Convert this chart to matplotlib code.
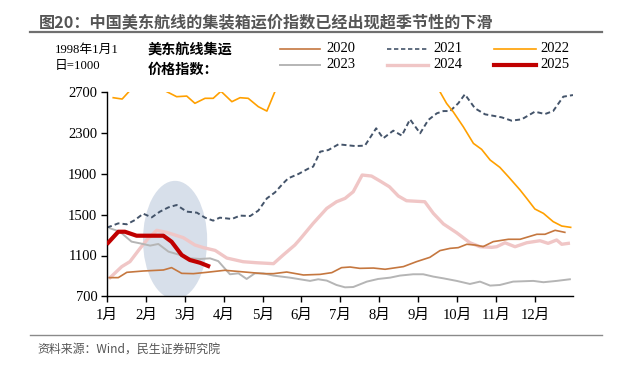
import matplotlib
matplotlib.use("Agg")
import matplotlib.pyplot as plt
from matplotlib.patches import Ellipse
from matplotlib.lines import Line2D

plt.rcParams['font.family'] = ['Liberation Serif', 'Noto Sans CJK SC', 'DejaVu Sans']

# ---------------- data (x in months since Jan 1, y = index) ----------------
months = ['1月', '2月', '3月', '4月', '5月', '6月', '7月', '8月', '9月', '10月', '11月', '12月']
yticks = [700, 1100, 1500, 1900, 2300, 2700]

x2020 = [0.06, 0.29, 0.51, 0.93, 1.45, 1.66, 1.92, 2.22, 2.56, 3.03, 3.42, 4.02, 4.28, 4.62, 5.05,
         5.48, 5.78, 6.03, 6.25, 6.50, 6.85, 7.15, 7.62, 7.96, 8.30, 8.56, 8.82, 9.03, 9.25, 9.46,
         9.67, 9.93, 10.32, 10.62, 11.05, 11.26, 11.52, 11.77]
y2020 = [883, 883, 935, 948, 958, 981, 925, 922, 935, 955, 942, 922, 922, 938, 909,
         915, 932, 981, 987, 974, 977, 965, 991, 1040, 1082, 1148, 1170, 1177, 1210, 1203,
         1187, 1236, 1259, 1259, 1308, 1308, 1347, 1327]

x2021 = [0.00, 0.29, 0.51, 0.72, 0.93, 1.15, 1.36, 1.58, 1.79, 2.05, 2.31, 2.52, 2.73, 2.90, 3.21,
         3.42, 3.68, 3.89, 4.11, 4.32, 4.53, 4.66, 4.92, 5.22, 5.30, 5.48, 5.69, 5.95, 6.38, 6.63,
         6.92, 7.10, 7.36, 7.58, 7.79, 8.05, 8.26, 8.48, 8.65, 8.82, 9.03, 9.20, 9.46, 9.72, 9.97,
         10.15, 10.40, 10.66, 11.00, 11.26, 11.47, 11.73, 11.98]
y2021 = [1373, 1415, 1406, 1448, 1510, 1474, 1530, 1572, 1595, 1530, 1520, 1471, 1442, 1471, 1458,
         1491, 1487, 1540, 1660, 1719, 1808, 1857, 1899, 1961, 1971, 2118, 2134, 2190, 2173, 2177,
         2347, 2249, 2324, 2275, 2435, 2298, 2429, 2494, 2516, 2516, 2592, 2680, 2543, 2484, 2467,
         2454, 2422, 2435, 2510, 2487, 2516, 2657, 2673]

x2022 = [0.16, 0.39, 0.62, 0.85, 1.08, 1.31, 1.79, 2.05, 2.26, 2.52, 2.73, 2.93, 3.21, 3.42, 3.63,
         3.89, 4.11, 4.58, 5.22, 6.02, 6.76, 7.53, 8.33, 8.56, 8.73, 8.90, 9.16, 9.42, 9.63, 9.85,
         10.10, 10.32, 10.62, 10.79, 11.00, 11.22, 11.47, 11.69, 11.92]
y2022 = [2647, 2634, 2730, 2810, 2800, 2750, 2657, 2663, 2592, 2641, 2641, 2710, 2608, 2647, 2641,
         2559, 2516, 2950, 3150, 3250, 3300, 3200, 2880, 2705, 2591, 2509, 2362, 2199, 2141, 2036,
         1964, 1872, 1742, 1660, 1556, 1513, 1432, 1389, 1376]

x2023 = [0.08, 0.33, 0.63, 0.85, 1.11, 1.32, 1.58, 1.88, 2.13, 2.39, 2.65, 2.86, 3.16, 3.38, 3.59,
         3.80, 4.02, 4.28, 4.70, 4.96, 5.22, 5.43, 5.65, 5.90, 6.12, 6.33, 6.68, 6.97, 7.28, 7.53,
         7.87, 8.13, 8.39, 8.65, 8.99, 9.33, 9.59, 9.85, 10.10, 10.44, 10.96, 11.22, 11.56, 11.90]
y2023 = [1366, 1334, 1236, 1219, 1197, 1213, 1138, 1105, 1072, 1066, 1072, 1045, 916, 925, 870,
         925, 925, 903, 883, 867, 851, 867, 854, 811, 788, 791, 844, 870, 883, 903,
         916, 916, 893, 876, 851, 821, 844, 805, 811, 844, 851, 838, 851, 867]

x2024 = [0.08, 0.38, 0.59, 0.85, 1.06, 1.28, 1.53, 1.96, 2.26, 2.48, 2.78, 3.08, 3.50, 3.85, 4.28,
         4.53, 4.83, 4.96, 5.30, 5.65, 5.90, 6.12, 6.33, 6.56, 6.80, 7.02, 7.26, 7.49, 7.70, 8.17,
         8.39, 8.65, 8.99, 9.33, 9.59, 9.89, 10.02, 10.23, 10.49, 10.79, 11.13, 11.34, 11.56, 11.69, 11.86]
y2024 = [883, 991, 1040, 1170, 1268, 1347, 1327, 1275, 1203, 1177, 1150, 1075, 1039, 1029, 1020,
         1105, 1203, 1259, 1415, 1562, 1627, 1660, 1725, 1889, 1879, 1830, 1774, 1683, 1637, 1627,
         1513, 1409, 1323, 1225, 1186, 1180, 1186, 1225, 1186, 1225, 1245, 1219, 1252, 1210, 1219]

x2025 = [0.03, 0.29, 0.46, 0.76, 1.11, 1.45, 1.66, 1.92, 2.13, 2.39, 2.60]
y2025 = [1225, 1333, 1333, 1294, 1294, 1294, 1235, 1105, 1056, 1029, 997]

# ---------------- figure ----------------
W, H = 619, 366
fig = plt.figure(figsize=(W / 100, H / 100), dpi=100)
fig.patch.set_facecolor('white')

def fx(px):
    return px / W

def fy(py):
    return 1 - py / H

ax = fig.add_axes([fx(107), fy(296.3), fx(573) - fx(107), fy(92.3) - fy(296.3)])

ax.add_patch(Ellipse((1.75, 1252), 1.65, 1160, facecolor='#D7DFEA', edgecolor='none', zorder=0.5))

ax.plot(x2024, y2024, color='#F0C6C6', lw=2.4, zorder=2, solid_joinstyle='round')
ax.plot(x2023, y2023, color='#B5B5B5', lw=1.4, zorder=2.1)
ax.plot(x2020, y2020, color='#C5773F', lw=1.2, zorder=2.2)
ax.plot(x2021, y2021, color='#44546A', lw=1.4, ls=(0, (2.6, 1.6)), zorder=2.3)
ax.plot(x2022, y2022, color='#FFA000', lw=1.2, zorder=2.4)
ax.plot(x2025, y2025, color='#C00000', lw=3.0, zorder=3, solid_joinstyle='round')

ax.set_xlim(0, 11.98)
ax.set_ylim(700, 2700)
ax.set_xticks(range(12))
ax.set_xticklabels(months)
ax.set_yticks(yticks)
ax.set_yticklabels([str(v) for v in yticks])
for s in ['top', 'right']:
    ax.spines[s].set_visible(False)
for s in ['left', 'bottom']:
    ax.spines[s].set_linewidth(1.0)
    ax.spines[s].set_color('black')
ax.tick_params(axis='both', direction='out', length=4, width=1, labelsize=10.5, colors='black', pad=3)
ax.tick_params(axis='x', pad=5)
ax.set_facecolor('none')

# ---------------- title & rules ----------------
fig.text(fx(39), fy(22), '图20：中国美东航线的集装箱运价指数已经出现超季节性的下滑',
         family=['Noto Sans CJK SC'], fontweight='bold', fontsize=11.6, color='#555555',
         ha='left', va='center')
fig.add_artist(Line2D([fx(30), fx(602)], [fy(32), fy(32)], color='#707070', lw=1.6))
fig.add_artist(Line2D([fx(30), fx(602)], [fy(335), fy(335)], color='#8A8A8A', lw=1.0))
fig.text(fx(37), fy(349), '资料来源：Wind，民生证券研究院', family=['Noto Sans CJK SC'],
         fontsize=8.6, color='#555555', ha='left', va='center')

# ---------------- upper-left notes ----------------
fig.text(fx(55), fy(50), '1998年1月1', family=['Liberation Serif', 'Noto Sans CJK SC'],
         fontsize=9.2, color='black', ha='left', va='center')
fig.text(fx(55), fy(66), '日=1000', family=['Liberation Serif', 'Noto Sans CJK SC'],
         fontsize=9.2, color='black', ha='left', va='center')
fig.text(fx(148), fy(50), '美东航线集运', family=['Noto Sans CJK SC'], fontweight='bold',
         fontsize=10.2, color='black', ha='left', va='center')
fig.text(fx(148), fy(70), '价格指数：', family=['Noto Sans CJK SC'], fontweight='bold',
         fontsize=10.2, color='black', ha='left', va='center')

# ---------------- legend (manual) ----------------
legend_items = [
    ('2020', '#C5773F', 1.2, '-', 280, 320, 326, 49),
    ('2021', '#44546A', 1.2, (0, (2.6, 1.6)), 387, 428, 433, 49),
    ('2022', '#FFA000', 1.2, '-', 494, 536, 540, 49),
    ('2023', '#B5B5B5', 1.4, '-', 280, 320, 326, 65),
    ('2024', '#F0C6C6', 2.4, '-', 387, 428, 433, 65),
    ('2025', '#C00000', 3.0, '-', 494, 536, 540, 65),
]
for lab, col, lw, ls, x0, x1, xt, yy in legend_items:
    fig.add_artist(Line2D([fx(x0), fx(x1)], [fy(yy), fy(yy)], color=col, lw=lw, ls=ls))
    fig.text(fx(xt), fy(yy), lab, family=['Liberation Serif'], fontsize=10.5,
             color='black', ha='left', va='center')

fig.savefig('out.png', dpi=100)
